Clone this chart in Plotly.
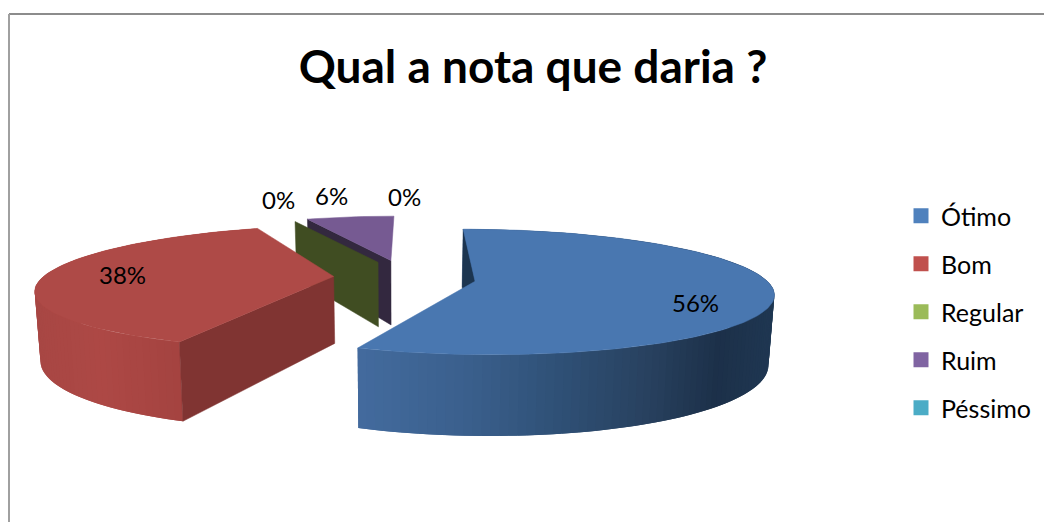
import math
import plotly.graph_objects as go

# ---- data ----
categories = ["Ótimo", "Bom", "Regular", "Ruim", "Péssimo"]
values = [9, 6, 0, 1, 0]
legend_colors = ["#4f81bd", "#c0504d", "#9bbb59", "#8064a2", "#4bacc6"]
title_text = "Qual a nota que daria ?"

# ---- styles per slice ----
top_colors = ["#4977b0", "#ae4a47", "#77933c", "#765a92", "#4bacc6"]
radial_colors = ["#1c3550", "#803432", "#404d22", "#33283f", "#2a6070"]
wall_stops = {
    0: [(356, "#436b9e"), (470, "#3a5f8c"), (560, "#2f5076"), (650, "#28415f"), (720, "#1c3049"), (776, "#1f3752")],
    1: [(36, "#a84744"), (100, "#ad4845"), (180, "#a44340")],
}
radius_scale = [1.0, 1.0, 0.9, 0.92, 1.0]
lean = [0, 13, 0, 3, 0]
drop = [-1, -3, -4, -5, 0]
draw_order = [3, 2, 4, 1, 0]

# ---- projection of the pie plane on the page ----
EXPLODE = 0.245
VX, VY = 393, -77.6
A, C, H, L, T = 290, 11.7, 0.168, 357, 67
XC, SHRINK = 400, 0.984


def project(X, Y, bottom=False, slant=0.0, dy=0.0, oy=0.0):
    D = 1 + H * Y
    sx = VX + (A * X + C) / D + slant * (Y - oy)
    sy = VY + L / D + dy
    if bottom:
        sy += T / D
        sx = XC + (sx - XC) * SHRINK
    return sx, sy


def hex2rgb(h):
    return [int(h[i:i + 2], 16) for i in (1, 3, 5)]


def ramp(stops, x):
    if x <= stops[0][0]:
        return stops[0][1]
    for (x0, c0), (x1, c1) in zip(stops, stops[1:]):
        if x <= x1:
            t = (x - x0) / (x1 - x0)
            r = [round(a + (b - a) * t) for a, b in zip(hex2rgb(c0), hex2rgb(c1))]
            return "rgb(%d,%d,%d)" % tuple(r)
    return stops[-1][1]


fig = go.Figure()


def poly(points, color, lw=0.0):
    fig.add_trace(go.Scatter(
        x=[p[0] for p in points] + [points[0][0]],
        y=[p[1] for p in points] + [points[0][1]],
        mode="lines", fill="toself", fillcolor=color,
        line=dict(color=color, width=lw),
        showlegend=False, hoverinfo="skip",
    ))


total = sum(values)
starts, acc = [], 0.0
for v in values:
    starts.append(acc)
    acc += v / total * 2 * math.pi

for i in draw_order:
    a0 = starts[i]
    sweep = values[i] / total * 2 * math.pi
    mid = a0 + sweep / 2
    ox, oy = EXPLODE * math.sin(mid), EXPLODE * math.cos(mid)
    r = radius_scale[i]
    kw = dict(slant=lean[i], dy=drop[i], oy=oy)

    def rim(t):
        return ox + r * math.sin(t), oy + r * math.cos(t)

    def radial(t):
        return [project(ox, oy, **kw), project(*rim(t), **kw),
                project(*rim(t), True, **kw), project(ox, oy, True, **kw)]

    if sweep == 0:
        # a zero slice is only a flat wall, seen when it faces the left
        if math.sin(a0) < -0.05:
            poly(radial(a0), radial_colors[i], 0.5)
        continue

    # outer wall, in overlapping strips so it can shade without seams
    if i in wall_stops:
        n = max(2, int(sweep / math.radians(1.5)))
        ts = [a0 + sweep * k / n for k in range(n + 1)]
        order = list(range(n))
        if i == 1:
            order.reverse()
        for k in order:
            t0, t1 = ts[k], ts[k + 1]
            tt = ts[min(n, k + 2)] if i == 0 else ts[max(0, k - 1)]
            ends = (t0, t1, tt) if i == 0 else (tt, t0, t1)
            top = [project(*rim(t), **kw) for t in ends]
            bot = [project(*rim(t), True, **kw) for t in ends]
            poly(top + bot[::-1], ramp(wall_stops[i], (project(*rim(t0), **kw)[0] + project(*rim(t1), **kw)[0]) / 2), 0)

    # the radial wall at the start of the slice is the one that faces the viewer
    poly(radial(a0), radial_colors[i], 0.5)

    # top face
    n = max(4, int(sweep / math.radians(1.5)))
    pts = [project(ox, oy, **kw)] + [project(*rim(a0 + sweep * k / n), **kw) for k in range(n + 1)]
    poly(pts, top_colors[i], 0.5)

# legend entries
for name, col in zip(categories, legend_colors):
    fig.add_trace(go.Scatter(
        x=[None], y=[None], mode="markers", name=name, legendgroup=name,
        marker=dict(symbol="square", size=15, color=col),
    ))

# percentage labels
label_xy = [(695, 302), (122, 274), (278, 199), (331, 195), (404, 196)]
annotations = []
for v, (lx, ly) in zip(values, label_xy):
    annotations.append(dict(
        x=lx, y=ly, xref="x", yref="y", text="%d%%" % round(v / total * 100),
        showarrow=False, font=dict(family="Lato", size=24, color="black"),
    ))

fig.update_layout(
    width=1044, height=522,
    margin=dict(l=0, r=0, t=0, b=0),
    paper_bgcolor="white", plot_bgcolor="white",
    xaxis=dict(range=[0, 1044], visible=False, fixedrange=True),
    yaxis=dict(range=[522, 0], visible=False, fixedrange=True),
    title=dict(text=title_text, x=533 / 1044, xanchor="center", y=1 - 67 / 522, yanchor="middle",
               font=dict(family="Lato", size=46, color="black", weight="bold")),
    legend=dict(x=901 / 1044, xanchor="left", y=1 - 193 / 522, yanchor="top",
                font=dict(family="Lato", size=25, color="black"),
                tracegroupgap=12.5, itemwidth=30, bgcolor="rgba(0,0,0,0)"),
    annotations=annotations,
    shapes=[
        dict(type="line", xref="x", yref="y", x0=9, y0=14, x1=1044, y1=14, line=dict(color="#8c8c8c", width=2)),
        dict(type="line", xref="x", yref="y", x0=9, y0=14, x1=9, y1=522, line=dict(color="#a0a0a0", width=2)),
    ],
)

fig.write_html("out.html", config=dict(displayModeBar=False),
               post_script="document.body.style.margin='0';document.documentElement.style.overflow='hidden';")
